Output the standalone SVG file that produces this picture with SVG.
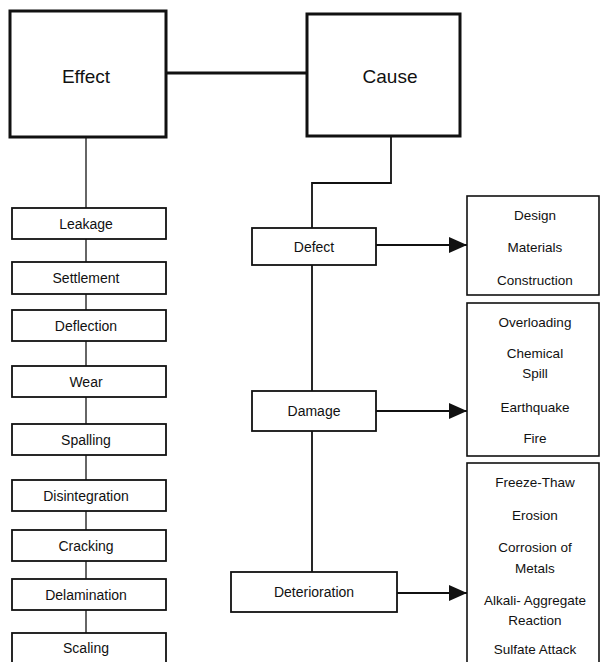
<svg xmlns="http://www.w3.org/2000/svg" width="602" height="662" viewBox="0 0 602 662">
<style>
text{font-family:"Liberation Sans",Arial,sans-serif;fill:#111;text-anchor:middle}
.big rect{fill:#fff;stroke:#111;stroke-width:3}
.big text{font-size:19px}
.box rect{fill:#fff;stroke:#111;stroke-width:1.8}
.box text{font-size:14px}
.list rect{fill:#fff;stroke:#111;stroke-width:1.6}
.list text{font-size:13.5px}
.c{fill:none;stroke:#111;stroke-width:1.8}
</style>
<defs>
<marker id="ah" viewBox="0 0 10 10" refX="10" refY="5" markerWidth="18" markerHeight="16" markerUnits="userSpaceOnUse" orient="auto" preserveAspectRatio="none">
<path d="M0,0 L10,5 L0,10 Z" fill="#111"/>
</marker>
</defs>
<g id="connectors">
<line class="c" x1="166" y1="73" x2="307" y2="73" style="stroke-width:3"/>
<line class="c" x1="86" y1="137" x2="86" y2="640" style="stroke:#333;stroke-width:1.5"/>
<polyline class="c" points="391,136 391,183 312,183 312,572"/>
<line class="c" x1="376" y1="245" x2="467" y2="245" marker-end="url(#ah)"/>
<line class="c" x1="376" y1="411" x2="467" y2="411" marker-end="url(#ah)"/>
<line class="c" x1="397" y1="593" x2="467" y2="593" marker-end="url(#ah)"/>
</g>
<g id="effect" class="big"><rect x="10" y="11" width="156" height="126"/><text x="86" y="83">Effect</text></g>
<g id="cause" class="big"><rect x="307" y="14" width="153" height="122"/><text x="390" y="83">Cause</text></g>
<g id="leakage" class="box"><rect x="12" y="208" width="154" height="31"/><text x="86" y="229">Leakage</text></g>
<g id="settlement" class="box"><rect x="12" y="262" width="154" height="32"/><text x="86" y="283">Settlement</text></g>
<g id="deflection" class="box"><rect x="12" y="310" width="154" height="31"/><text x="86" y="331">Deflection</text></g>
<g id="wear" class="box"><rect x="12" y="366" width="154" height="31"/><text x="86" y="387">Wear</text></g>
<g id="spalling" class="box"><rect x="12" y="424" width="154" height="31"/><text x="86" y="445">Spalling</text></g>
<g id="disintegration" class="box"><rect x="12" y="480" width="154" height="31"/><text x="86" y="501">Disintegration</text></g>
<g id="cracking" class="box"><rect x="12" y="530" width="154" height="31"/><text x="86" y="551">Cracking</text></g>
<g id="delamination" class="box"><rect x="12" y="579" width="154" height="31"/><text x="86" y="600">Delamination</text></g>
<g id="scaling" class="box"><rect x="12" y="633" width="154" height="40"/><text x="86" y="653">Scaling</text></g>
<g id="defect" class="box"><rect x="252" y="228" width="124" height="37"/><text x="314" y="252">Defect</text></g>
<g id="damage" class="box"><rect x="252" y="391" width="124" height="40"/><text x="314" y="416">Damage</text></g>
<g id="deterioration" class="box"><rect x="231" y="572" width="166" height="40"/><text x="314" y="597">Deterioration</text></g>
<g id="defect-causes" class="list"><rect x="467" y="196" width="132" height="99"/>
<text x="535" y="220">Design</text><text x="535" y="252">Materials</text><text x="535" y="285">Construction</text></g>
<g id="damage-causes" class="list"><rect x="467" y="303" width="132" height="153"/>
<text x="535" y="327">Overloading</text><text x="535" y="358">Chemical</text><text x="535" y="378">Spill</text><text x="535" y="412">Earthquake</text><text x="535" y="443">Fire</text></g>
<g id="deterioration-causes" class="list"><rect x="467" y="463" width="132" height="210"/>
<text x="535" y="487">Freeze-Thaw</text><text x="535" y="520">Erosion</text><text x="535" y="552">Corrosion of</text><text x="535" y="573">Metals</text><text x="535" y="605">Alkali- Aggregate</text><text x="535" y="625">Reaction</text><text x="535" y="654">Sulfate Attack</text></g>
</svg>
